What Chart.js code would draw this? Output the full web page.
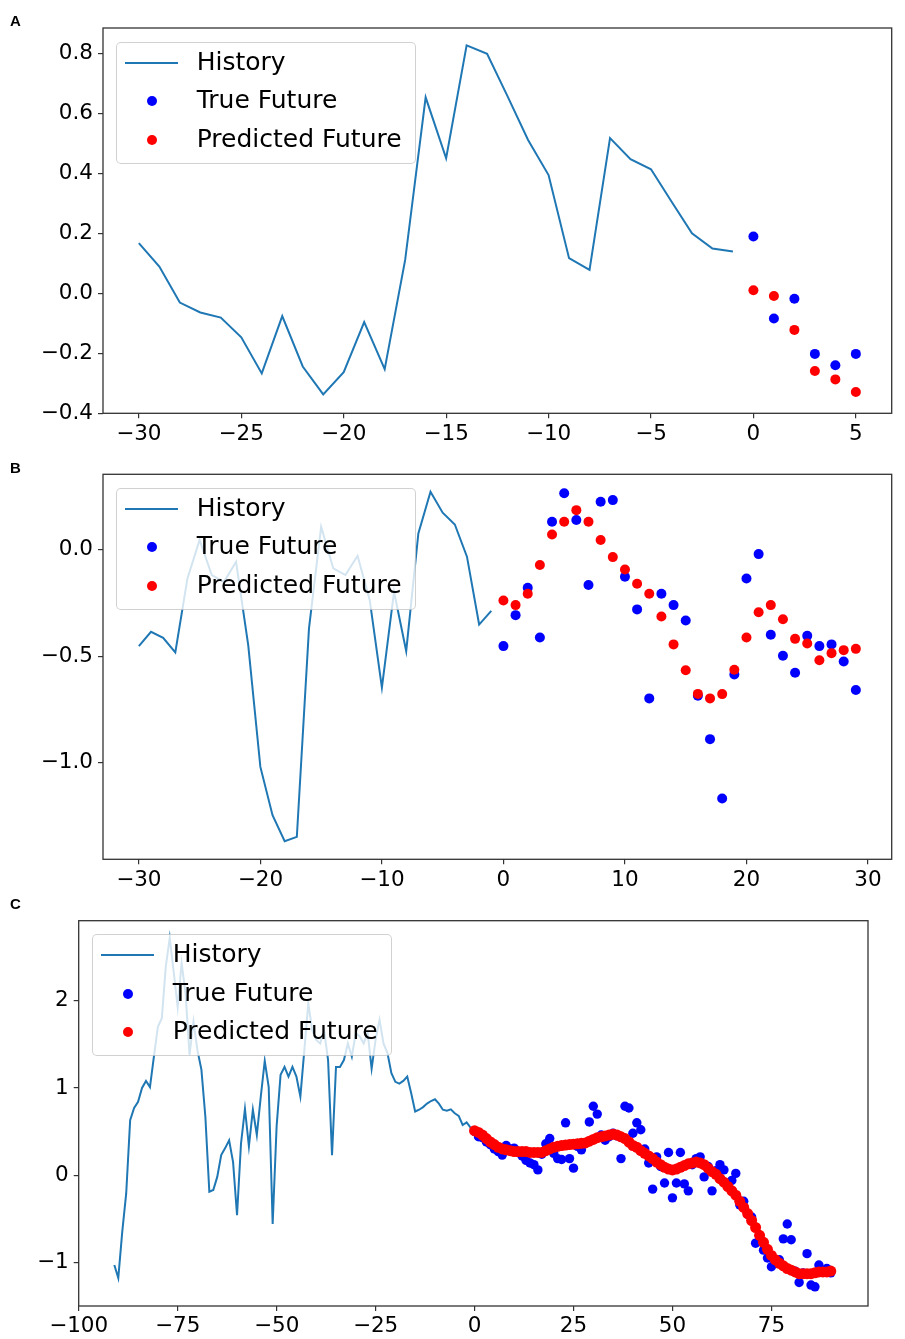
<!DOCTYPE html>
<html lang="en">
<head>
    <meta charset="UTF-8">
    <title>History vs Future forecasts</title>
    <style>
        body {
            margin: 0;
            background: #fff;
            font-family: "DejaVu Sans", sans-serif;
        }

        .page {
            position: relative;
            width: 905px;
            height: 1339px;
            overflow: hidden;
        }

        canvas {
            position: absolute;
            left: 0;
        }

        .letter {
            position: absolute;
            left: 10px;
            font: bold 15px "Liberation Sans", Arial, sans-serif;
            color: #000;
        }

        .legend {
            position: absolute;
            width: 298px;
            height: 120px;
            border: 1px solid rgba(0, 0, 0, 0.18);
            border-radius: 5px;
            background: rgba(255, 255, 255, 0.8);
            font-size: 25px;
            color: #000;
        }

        .legend span {
            position: absolute;
            left: 80px;
            height: 30px;
            line-height: 30px;
            white-space: nowrap;
        }

        .legend i {
            position: absolute;
            display: block;
        }
    </style>
</head>
<body>
<div class="page" id="page">
    <canvas id="chartA" width="905" height="455" style="top:0"></canvas>
    <canvas id="chartB" width="905" height="440" style="top:455px"></canvas>
    <canvas id="chartC" width="905" height="444" style="top:895px"></canvas>
    <div class="letter" style="top:12px">A</div>
    <div class="letter" style="top:459px">B</div>
    <div class="letter" style="top:895px">C</div>
</div>

<script src="https://cdn.jsdelivr.net/npm/chart.js"></script>
<script>
    // ---- data ----
    // panel A: history at x = -30..-1, futures at x = 0..5
    const histA = [0.167, 0.089, -0.031, -0.064, -0.081, -0.147, -0.267, -0.076, -0.244, -0.337,
        -0.263, -0.096, -0.253, 0.111, 0.653, 0.45, 0.826, 0.798, 0.656, 0.511,
        0.394, 0.117, 0.078, 0.517, 0.447, 0.413, 0.306, 0.2, 0.149, 0.139];
    const trueA = [0.189, -0.084, -0.018, -0.202, -0.24, -0.202];
    const predA = [0.01, -0.009, -0.122, -0.259, -0.287, -0.329];

    // panel B: history at x = -30..-1, futures at x = 0..29
    const histB = [-0.453, -0.386, -0.414, -0.483, -0.136, 0.044, -0.12, -0.152, -0.058, -0.448,
        -1.019, -1.245, -1.367, -1.347, -0.37, 0.106, -0.089, -0.12, -0.03, -0.238,
        -0.648, -0.198, -0.477, 0.075, 0.27, 0.172, 0.117, -0.034, -0.352, -0.288];
    const trueB = [-0.453, -0.308, -0.18, -0.413, 0.13, 0.263, 0.138, -0.167, 0.223, 0.231,
        -0.128, -0.281, -0.698, -0.208, -0.261, -0.333, -0.686, -0.889, -1.167, -0.586,
        -0.136, -0.022, -0.4, -0.498, -0.578, -0.405, -0.453, -0.445, -0.525, -0.659];
    const predB = [-0.239, -0.261, -0.208, -0.073, 0.07, 0.13, 0.184, 0.13, 0.044, -0.036,
        -0.094, -0.161, -0.208, -0.314, -0.445, -0.566, -0.677, -0.698, -0.678, -0.564,
        -0.413, -0.294, -0.261, -0.327, -0.419, -0.441, -0.519, -0.486, -0.472, -0.466];

    // panel C: history at x = -91..-1, futures at x = 0..90
    const histC = [-1.03, -1.18, -0.65, -0.21, 0.63, 0.77, 0.84, 1.0, 1.08, 1.01,
        1.36, 1.70, 1.80, 2.39, 2.72, 2.33, 1.93, 2.43, 2.08, 1.38,
        1.76, 1.43, 1.21, 0.67, -0.19, -0.17, -0.02, 0.23, 0.31, 0.40,
        0.15, -0.46, 0.36, 0.76, 0.33, 0.75, 0.46, 0.90, 1.31, 1.01,
        -0.56, 0.56, 1.15, 1.24, 1.13, 1.24, 1.13, 0.90, 1.43, 1.97,
        1.66, 1.55, 1.51, 1.66, 1.32, 0.23, 1.24, 1.24, 1.32, 1.51,
        1.36, 1.63, 1.59, 1.51, 1.63, 1.22, 1.55, 1.78, 1.51, 1.40,
        1.17, 1.07, 1.05, 1.08, 1.13, 0.94, 0.73, 0.75, 0.78, 0.82,
        0.85, 0.87, 0.82, 0.75, 0.74, 0.755, 0.71, 0.68, 0.575, 0.605, 0.545];
    const trueC = [0.50, 0.44, 0.43, 0.38, 0.35, 0.30, 0.27, 0.23, 0.34, 0.30,
        0.31, 0.26, 0.22, 0.17, 0.14, 0.12, 0.06, 0.24, 0.36, 0.42,
        0.25, 0.19, 0.18, 0.60, 0.19, 0.08, 0.33, 0.29, 0.37, 0.61,
        0.79, 0.70, 0.46, 0.40, 0.44, 0.48, 0.45, 0.19, 0.79, 0.77,
        0.48, 0.60, 0.52, 0.30, 0.14, -0.16, 0.21, 0.10, -0.09, 0.26,
        -0.26, -0.09, 0.26, -0.10, -0.18, 0.12, 0.19, 0.21, -0.02, 0.10,
        -0.18, 0.05, 0.12, 0.06, -0.10, -0.06, 0.02, -0.34, -0.30, -0.45,
        -0.48, -0.78, -0.70, -0.86, -0.95, -1.05, -1.0, -0.97, -0.73, -0.56,
        -0.74, -1.10, -1.23, -1.12, -0.90, -1.26, -1.28, -1.03, -1.10, -1.07, -1.12];
    const predC = [0.51, 0.49, 0.46, 0.42, 0.38, 0.35, 0.32, 0.30, 0.29, 0.28,
        0.27, 0.27, 0.27, 0.27, 0.26, 0.26, 0.26, 0.26, 0.28, 0.30,
        0.32, 0.33, 0.34, 0.345, 0.35, 0.355, 0.36, 0.365, 0.37, 0.39,
        0.41, 0.43, 0.44, 0.45, 0.46, 0.47, 0.46, 0.44, 0.42, 0.38,
        0.34, 0.32, 0.28, 0.25, 0.22, 0.19, 0.15, 0.12, 0.09, 0.07,
        0.06, 0.07, 0.09, 0.11, 0.13, 0.14, 0.15, 0.14, 0.12, 0.08,
        0.04, 0.01, -0.04, -0.08, -0.13, -0.18, -0.23, -0.30, -0.37, -0.44,
        -0.52, -0.60, -0.69, -0.77, -0.85, -0.92, -0.97, -1.01, -1.04, -1.07,
        -1.09, -1.11, -1.13, -1.13, -1.13, -1.13, -1.12, -1.11, -1.11, -1.11, -1.10];

    // tick values
    const xTicksA = [-30, -25, -20, -15, -10, -5, 0, 5];
    const yTicksA = [-0.4, -0.2, 0.0, 0.2, 0.4, 0.6, 0.8];
    const xTicksB = [-30, -20, -10, 0, 10, 20, 30];
    const yTicksB = [-1.0, -0.5, 0.0];
    const xTicksC = [-100, -75, -50, -25, 0, 25, 50, 75];
    const yTicksC = [-1, 0, 1, 2];

    const legendLabels = ['History', 'True Future', 'Predicted Future'];

    // ---- helpers ----
    function toPoints(values, start) {
        return values.map((v, i) => ({ x: start + i, y: v }));
    }

    function fmt(decimals) {
        return v => v.toFixed(decimals).replace('-', '\u2212');
    }

    const framePlugin = {
        id: 'frame',
        afterDatasetsDraw(chart) {
            const a = chart.chartArea;
            const ctx = chart.ctx;
            ctx.save();
            ctx.strokeStyle = '#333';
            ctx.lineWidth = 1.3;
            ctx.strokeRect(a.left, a.top, a.right - a.left, a.bottom - a.top);
            ctx.restore();
        }
    };

    function makePanel(id, p) {
        const canvas = document.getElementById(id);
        const h = canvas.height;
        const tickFont = { family: 'DejaVu Sans', size: 21.5 };
        const grid = { drawOnChartArea: false, drawTicks: true, tickLength: 5, tickColor: '#333', lineWidth: 1.2 };

        return new Chart(canvas.getContext('2d'), {
            type: 'scatter',
            data: {
                datasets: [
                    {
                        label: legendLabels[0],
                        data: toPoints(p.hist, -p.hist.length),
                        showLine: true,
                        borderColor: '#1f77b4',
                        borderWidth: 2,
                        pointRadius: 0,
                        tension: 0,
                        order: 2
                    },
                    {
                        label: legendLabels[1],
                        data: toPoints(p.truth, 0),
                        backgroundColor: '#0000ff',
                        borderWidth: 0,
                        pointRadius: p.rTrue,
                        order: 1
                    },
                    {
                        label: legendLabels[2],
                        data: toPoints(p.pred, 0),
                        backgroundColor: '#ff0000',
                        borderWidth: 0,
                        pointRadius: p.rPred,
                        order: 0
                    }
                ]
            },
            options: {
                responsive: false,
                animation: false,
                devicePixelRatio: 1,
                layout: {
                    padding: { left: 0, top: p.top, right: 905 - p.right, bottom: 0 }
                },
                plugins: {
                    legend: { display: false },
                    tooltip: { enabled: false }
                },
                scales: {
                    x: {
                        type: 'linear',
                        min: p.xMin,
                        max: p.xMax,
                        grid: grid,
                        border: { display: false },
                        afterBuildTicks: s => { s.ticks = p.xTicks.map(v => ({ value: v })); },
                        afterFit: s => { s.height = h - p.bottom; },
                        ticks: { font: tickFont, color: '#000', padding: 3, maxRotation: 0, callback: fmt(0) }
                    },
                    y: {
                        type: 'linear',
                        min: p.yMin,
                        max: p.yMax,
                        grid: grid,
                        border: { display: false },
                        afterBuildTicks: s => { s.ticks = p.yTicks.map(v => ({ value: v })); },
                        afterFit: s => { s.width = p.left; },
                        ticks: { font: tickFont, color: '#000', padding: 5, callback: fmt(p.yDec) }
                    }
                }
            },
            plugins: [framePlugin]
        });
    }

    // legend boxes drawn as html, like the matplotlib legend frame
    function addLegend(left, top) {
        const box = document.createElement('div');
        box.className = 'legend';
        box.style.left = left + 'px';
        box.style.top = top + 'px';
        const rows = [20, 58.5, 97];
        const line = document.createElement('i');
        line.style.cssText = 'left:8px;top:' + (rows[0] - 1) + 'px;width:53px;height:2px;background:#1f77b4';
        box.appendChild(line);
        ['#0000ff', '#ff0000'].forEach((c, k) => {
            const dot = document.createElement('i');
            dot.style.cssText = 'left:30px;top:' + (rows[k + 1] - 5) + 'px;width:10px;height:10px;border-radius:50%;background:' + c;
            box.appendChild(dot);
        });
        legendLabels.forEach((t, k) => {
            const s = document.createElement('span');
            s.textContent = t;
            s.style.top = (rows[k] - 16) + 'px';
            box.appendChild(s);
        });
        document.getElementById('page').appendChild(box);
    }

    // ---- charts ----
    makePanel('chartA', {
        hist: histA, truth: trueA, pred: predA, rTrue: 5, rPred: 5,
        xMin: -31.75, xMax: 6.75, yMin: -0.4, yMax: 0.884,
        xTicks: xTicksA, yTicks: yTicksA, yDec: 1,
        left: 103, right: 891.7, top: 28, bottom: 413.3
    });
    makePanel('chartB', {
        hist: histB, truth: trueB, pred: predB, rTrue: 5, rPred: 5,
        xMin: -32.95, xMax: 31.95, yMin: -1.452, yMax: 0.352,
        xTicks: xTicksB, yTicks: yTicksB, yDec: 1,
        left: 103, right: 891.7, top: 19.3, bottom: 404.3
    });
    makePanel('chartC', {
        hist: histC, truth: trueC, pred: predC, rTrue: 4.7, rPred: 5.5,
        xMin: -100, xMax: 99.4, yMin: -1.5, yMax: 2.917,
        xTicks: xTicksC, yTicks: yTicksC, yDec: 0,
        left: 78.7, right: 868, top: 25.7, bottom: 411
    });

    addLegend(115.7, 41.7);
    addLegend(115.7, 487.7);
    addLegend(91.7, 934);
</script>
</body>
</html>
